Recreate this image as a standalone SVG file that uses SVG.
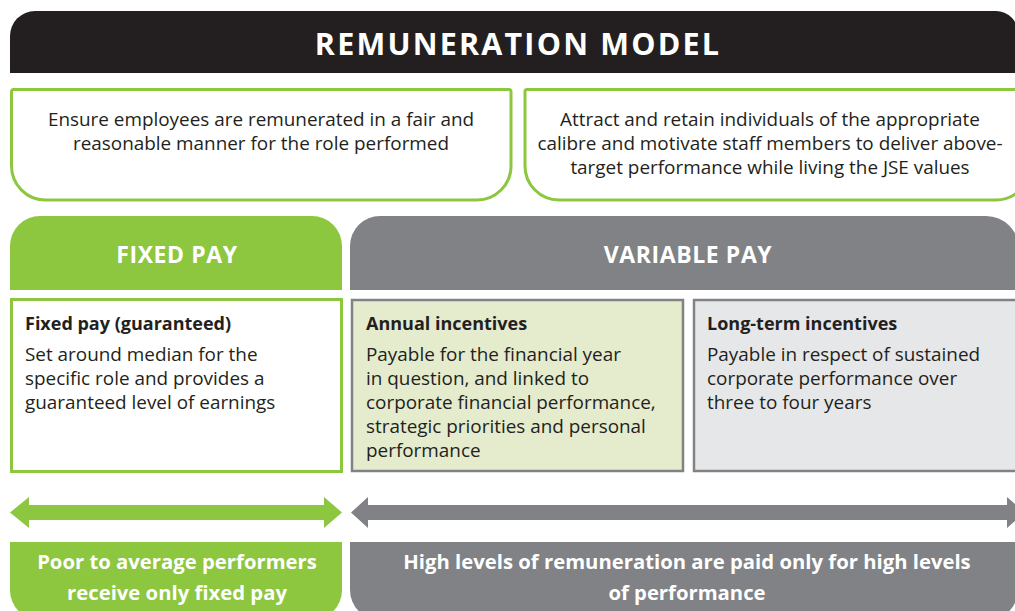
<svg xmlns="http://www.w3.org/2000/svg" width="1015" height="611" viewBox="0 0 1015 611">
  <style>
    .title { font-family: "Open Sans", "Liberation Sans", sans-serif; font-weight: 700; fill: #ffffff; text-anchor: middle; }
    .aim { font-family: "Open Sans", "Liberation Sans", sans-serif; font-size: 18.9px; fill: #231f20; text-anchor: middle; }
    .head { font-family: "Open Sans", "Liberation Sans", sans-serif; font-size: 18px; font-weight: 700; fill: #231f20; }
    .body { font-family: "Open Sans", "Liberation Sans", sans-serif; font-size: 18.9px; fill: #231f20; }
    .cap { font-family: "Open Sans", "Liberation Sans", sans-serif; font-size: 23px; font-weight: 700; fill: #ffffff; text-anchor: middle; letter-spacing: 0.6px; }
    .band { font-family: "Open Sans", "Liberation Sans", sans-serif; font-size: 20.3px; font-weight: 700; fill: #ffffff; text-anchor: middle; }
    .green { fill: #8dc63f; }
    .grey { fill: #808285; }
    .aimbox { fill: #ffffff; stroke: #8dc63f; stroke-width: 3; }
  </style>

  <!-- Title bar -->
  <g id="title">
    <path d="M10,73 V36 A25,25 0 0 1 35,11 H996 A22,22 0 0 1 1018,33 V73 Z" fill="#231f20"/>
    <text class="title" x="518" y="55" font-size="30.5" letter-spacing="2.2">REMUNERATION MODEL</text>
  </g>

  <!-- Objectives -->
  <g id="aim-fair">
    <path class="aimbox" d="M13,89.5 H509 A2,2 0 0 1 511,91.5 V166 A34,34 0 0 1 477,200 H45 A34,34 0 0 1 11.5,166 V91.5 A2,2 0 0 1 13,89.5 Z"/>
    <text class="aim" x="261" y="126">Ensure employees are remunerated in a fair and</text>
    <text class="aim" x="261" y="150">reasonable manner for the role performed</text>
  </g>
  <g id="aim-attract">
    <path class="aimbox" d="M527,89.5 H1030 V166 A34,34 0 0 1 996,200 H559 A34,34 0 0 1 525,166 V91.5 A2,2 0 0 1 527,89.5 Z"/>
    <text class="aim" x="770" y="126">Attract and retain individuals of the appropriate</text>
    <text class="aim" x="770" y="150">calibre and motivate staff members to deliver above-</text>
    <text class="aim" x="770" y="174">target performance while living the JSE values</text>
  </g>

  <!-- Column headers -->
  <g id="fixed-pay-header">
    <path class="green" d="M10,290 V246 A30,30 0 0 1 40,216 H312 A30,30 0 0 1 342,246 V290 Z"/>
    <text class="cap" x="177" y="263">FIXED PAY</text>
  </g>
  <g id="variable-pay-header">
    <path class="grey" d="M350,290 V246 A30,30 0 0 1 380,216 H986 A33,33 0 0 1 1019,249 V290 Z"/>
    <text class="cap" x="688" y="263">VARIABLE PAY</text>
  </g>

  <!-- Pay components -->
  <g id="fixed-pay">
    <rect x="11.5" y="299.5" width="330" height="172" fill="#ffffff" stroke="#8dc63f" stroke-width="3"/>
    <text class="head" x="25" y="330">Fixed pay (guaranteed)</text>
    <text class="body" x="25" y="361">Set around median for the</text>
    <text class="body" x="25" y="385">specific role and provides a</text>
    <text class="body" x="25" y="409">guaranteed level of earnings</text>
  </g>
  <g id="annual-incentives">
    <rect x="352" y="300" width="331" height="171" fill="#e5ebcd" stroke="#808285" stroke-width="2.5"/>
    <text class="head" x="366" y="330">Annual incentives</text>
    <text class="body" x="366" y="361">Payable for the financial year</text>
    <text class="body" x="366" y="385">in question, and linked to</text>
    <text class="body" x="366" y="409">corporate financial performance,</text>
    <text class="body" x="366" y="433">strategic priorities and personal</text>
    <text class="body" x="366" y="457">performance</text>
  </g>
  <g id="long-term-incentives">
    <rect x="694" y="300" width="330" height="171" fill="#e6e7e8" stroke="#808285" stroke-width="2.5"/>
    <text class="head" x="707" y="330">Long-term incentives</text>
    <text class="body" x="707" y="361">Payable in respect of sustained</text>
    <text class="body" x="707" y="385">corporate performance over</text>
    <text class="body" x="707" y="409">three to four years</text>
  </g>

  <!-- Range arrows -->
  <g id="connectors">
    <polygon class="green" points="10,512.5 29,497 29,505 324,505 324,497 342,512.5 324,528 324,520 29,520 29,528"/>
    <polygon class="grey" points="351,512.5 368,497 368,505 1007,505 1007,497 1025,512.5 1007,528 1007,520 368,520 368,528"/>
  </g>

  <!-- Outcome bands -->
  <g id="fixed-outcome">
    <path class="green" d="M10,542 H342 V590 A30,30 0 0 1 312,620 H40 A30,30 0 0 1 10,590 Z"/>
    <text class="band" x="177" y="569">Poor to average performers</text>
    <text class="band" x="177" y="600">receive only fixed pay</text>
  </g>
  <g id="variable-outcome">
    <path class="grey" d="M350,542 H1018 V590 A30,30 0 0 1 988,620 H380 A30,30 0 0 1 350,590 Z"/>
    <text class="band" x="687" y="569">High levels of remuneration are paid only for high levels</text>
    <text class="band" x="687" y="600">of performance</text>
  </g>
</svg>
